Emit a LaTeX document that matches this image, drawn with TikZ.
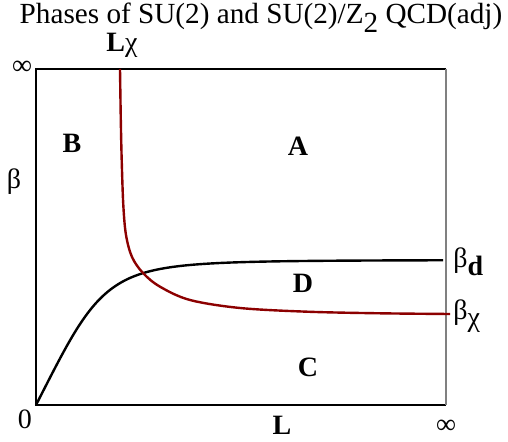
\documentclass[tikz,border=0pt]{standalone}
\usepackage{fontspec}
\setmainfont{Liberation Serif}

\begin{document}
\begin{tikzpicture}[x=0.5pt, y=-0.5pt, >=latex,
    lbl/.style={inner sep=0pt, font=\fontsize{14}{16}\selectfont},
    region/.style={lbl, font=\fontsize{14}{16}\selectfont\bfseries}]
        \useasboundingbox (0,0) rectangle (508,442);
        % ==== Title ====
        \node[lbl, font=\fontsize{14.6}{17}\selectfont] (title) at (261,18) {Phases of SU(2) and SU(2)/Z\raisebox{-0.7ex}{2} QCD(adj)};
        % ==== FRAME ====
        \draw[line width=0.75pt] (446,69) -- (36,69) -- (36,405) -- (446,405);
        \draw[line width=0.75pt, gray] (446,69) -- (446,405);
        % ==== BETA_D CURVE ====
        \draw[line width=1.2pt, black, samples=200, domain=36:443]
            plot (\x, {405 - 145*((\x-36)/100)/pow(((\x-36)/100)^3+0.405, 1/3)});
        % ==== BETA_CHI CURVE ====
        \draw[line width=1.2pt, red!55!black, smooth, tension=0.55]
            plot coordinates {(120,69) (120.8,120) (121.7,160) (123.3,205) (126,235)
              (132,257) (143,273) (160,286.7) (190,300) (240,308) (307,311.7) (380,313.3) (450,314)};
        % ==== AXIS LABELS ====
        \node[lbl] (inftop) at (22,68) {∞};
        \node[lbl] (Lchi) at (122,45) {\textbf{L}χ};
        \node[lbl] (beta) at (14,182) {β};
        \node[lbl] (zero) at (25,419) {0};
        \node[region] (L) at (282,425) {L};
        \node[lbl] (infright) at (446,427) {∞};
        \node[lbl, anchor=west] (betad) at (453,262) {β\raisebox{-0.6ex}{\textbf{d}}};
        \node[lbl, anchor=west] (betachi) at (453,316) {β\raisebox{-0.6ex}{χ}};
        % ==== PHASES ====
        \node[region] (B) at (72,143) {B};
        \node[region] (A) at (298,146) {A};
        \node[region] (D) at (303,283) {D};
        \node[region] (C) at (308,367) {C};
     \end{tikzpicture}
\end{document}
